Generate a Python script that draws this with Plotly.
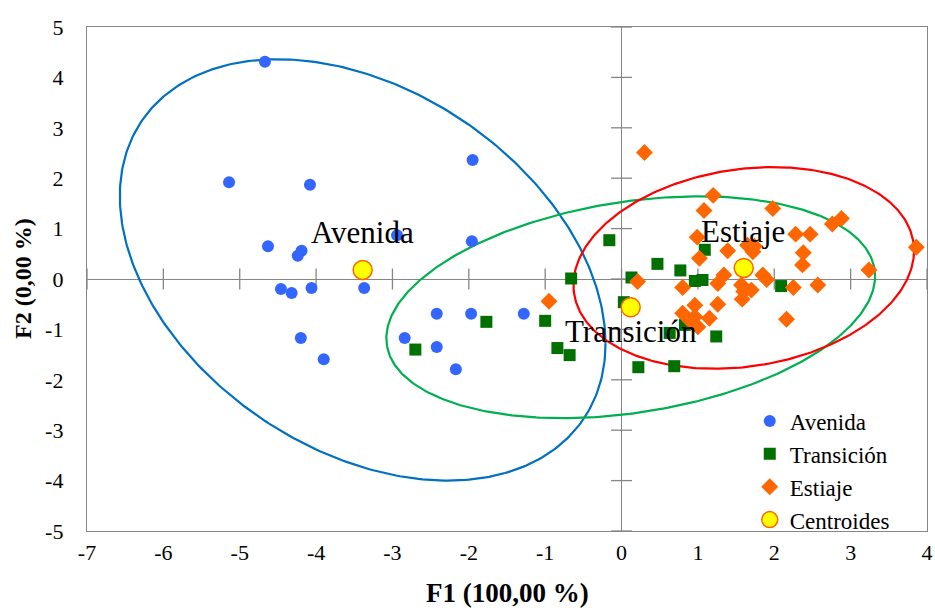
import numpy as np
import plotly.graph_objects as go

# ---------------- data ----------------
avenida_x = [-4.67, -5.14, -4.08, -1.95, -4.63, -4.19, -4.24, -2.94, -1.96, -4.46, -4.32,
             -4.06, -3.37, -4.20, -3.90, -2.84, -2.42, -2.42, -2.17, -1.97, -1.28]
avenida_y = [4.31, 1.92, 1.87, 2.36, 0.65, 0.56, 0.46, 0.87, 0.75, -0.20, -0.28,
             -0.18, -0.18, -1.17, -1.59, -1.17, -0.69, -1.35, -1.79, -0.69, -0.69]

transicion_x = [-0.16, -0.66, 0.13, 0.47, 0.77, 1.09, 0.96, 1.06, 2.09, 0.03, -1.77,
                -1.00, -2.70, -0.84, -0.68, 0.22, 0.69, 1.24, 0.63, 0.83]
transicion_y = [0.77, 0.01, 0.03, 0.30, 0.17, 0.58, -0.04, -0.02, -0.14, -0.46, -0.85,
                -0.83, -1.40, -1.37, -1.51, -1.75, -1.73, -1.14, -1.07, -0.91]

estiaje_x = [0.30, 1.20, 1.08, 1.98, 2.76, 2.88, 0.99, 2.28, 2.47, 1.39, 1.65, 1.74,
             1.72, 2.38, 2.37, 3.86, 1.02, 3.24, 0.21, 0.80, 1.34, 1.26, 1.85, 1.90,
             1.57, 1.60, 1.70, 2.25, 2.57, 1.58, 0.96, 1.26, 2.16, 0.80, 0.96, 1.15,
             0.91, 1.00, -0.95]
estiaje_y = [2.51, 1.66, 1.36, 1.40, 1.09, 1.20, 0.83, 0.89, 0.89, 0.56, 0.67, 0.65,
             0.54, 0.52, 0.28, 0.63, 0.41, 0.18, -0.05, -0.17, 0.08, -0.09, 0.08, -0.01,
             -0.12, -0.25, -0.22, -0.17, -0.12, -0.40, -0.52, -0.50, -0.80, -0.68, -0.75, -0.78,
             -0.85, -0.95, -0.44]

group_names = ["Avenida", "Transición", "Estiaje"]
centroid_x = [-3.39, 0.12, 1.60]
centroid_y = [0.18, -0.56, 0.22]

# confidence-ellipse parameters per group: half-width in x, half-height in y, correlation
ellipse_halfx = [3.18, 3.20, 2.23]
ellipse_halfy = [4.18, 2.20, 2.00]
ellipse_rho = [-0.35, 0.28, 0.17]

# label positions
label_x = [-3.39, 0.13, 1.59]
label_y = [0.93, -1.05, 0.95]

x_ticks = [-7, -6, -5, -4, -3, -2, -1, 0, 1, 2, 3, 4]
y_ticks = [-5, -4, -3, -2, -1, 0, 1, 2, 3, 4, 5]
x_ticktext = [str(v) for v in x_ticks]
y_ticktext = [str(v) for v in y_ticks]

x_title = "F1 (100,00 %)"
y_title = "F2 (0,00 %)"

# ---------------- styles ----------------
FONT = "Liberation Serif"
ellipse_colors = ["#0070C0", "#00B050", "#FF0000"]
AXIS_GRAY = "#868686"

fig = go.Figure()

# ellipses
t = np.linspace(0, 2 * np.pi, 400)
for cx, cy, hx, hy, r, col in zip(centroid_x, centroid_y, ellipse_halfx, ellipse_halfy,
                                   ellipse_rho, ellipse_colors):
    ex = cx + hx * np.cos(t)
    ey = cy + hy * (r * np.cos(t) + np.sqrt(1 - r * r) * np.sin(t))
    fig.add_trace(go.Scatter(x=ex, y=ey, mode="lines", line=dict(color=col, width=2.2),
                             showlegend=False, hoverinfo="skip"))

# axis tick marks on the zero lines
fig.add_trace(go.Scatter(x=x_ticks, y=[0] * len(x_ticks), mode="markers",
                         marker=dict(symbol="line-ns", size=15,
                                     line=dict(color=AXIS_GRAY, width=1.3)),
                         showlegend=False, hoverinfo="skip", cliponaxis=False))
fig.add_trace(go.Scatter(x=[0] * len(y_ticks), y=y_ticks, mode="markers",
                         marker=dict(symbol="line-ew", size=15,
                                     line=dict(color=AXIS_GRAY, width=1.3)),
                         showlegend=False, hoverinfo="skip", cliponaxis=False))

fig.add_trace(go.Scatter(x=avenida_x, y=avenida_y, mode="markers", name="Avenida",
                         legendgroup="a",
                         marker=dict(symbol="circle", size=12, color="#3366FF")))
fig.add_trace(go.Scatter(x=transicion_x, y=transicion_y, mode="markers", name="Transición",
                         legendgroup="b",
                         marker=dict(symbol="square", size=12, color="#007000")))
fig.add_trace(go.Scatter(x=estiaje_x, y=estiaje_y, mode="markers", name="Estiaje",
                         legendgroup="c",
                         marker=dict(symbol="diamond", size=13, color="#FF6600")))
fig.add_trace(go.Scatter(x=centroid_x, y=centroid_y, mode="markers", name="Centroides",
                         legendgroup="d",
                         marker=dict(symbol="circle", size=19, color="#FFFF00",
                                     line=dict(color="#FF6600", width=1.5))))

for name, lx, ly in zip(group_names, label_x, label_y):
    fig.add_annotation(x=lx, y=ly, text=name, showarrow=False,
                       font=dict(family=FONT, size=31, color="black"))

# axis titles
fig.add_annotation(xref="paper", yref="paper", x=0.5, y=0, yshift=-62,
                   text="<b>" + x_title + "</b>", showarrow=False,
                   xanchor="center", yanchor="middle",
                   font=dict(family=FONT, size=27, color="black"))
fig.add_annotation(xref="paper", yref="paper", x=0, y=0.5, xshift=-64,
                   text="<b>" + y_title + "</b>", showarrow=False, textangle=-90,
                   xanchor="center", yanchor="middle",
                   font=dict(family=FONT, size=24, color="black"))

fig.update_layout(
    width=935, height=608,
    margin=dict(l=87, r=8, t=27, b=77),
    paper_bgcolor="white", plot_bgcolor="white",
    font=dict(family=FONT, size=22, color="black"),
    showlegend=True,
    legend=dict(x=0.789, y=0.261, xanchor="left", yanchor="top",
                font=dict(family=FONT, size=23, color="black"),
                bgcolor="rgba(0,0,0,0)", tracegroupgap=0, itemwidth=30),
)
fig.update_xaxes(range=[-7, 4], tickvals=x_ticks, ticktext=x_ticktext, showgrid=False,
                 zeroline=True, zerolinecolor=AXIS_GRAY, zerolinewidth=1.3,
                 showline=True, linecolor=AXIS_GRAY, linewidth=1.3, mirror=True,
                 ticks="", ticklen=0, automargin=False, ticklabelstandoff=1,
                 tickfont=dict(family=FONT, size=22, color="black"))
fig.update_yaxes(range=[-5, 5], tickvals=y_ticks, ticktext=y_ticktext, showgrid=False,
                 zeroline=True, zerolinecolor=AXIS_GRAY, zerolinewidth=1.3,
                 showline=True, linecolor=AXIS_GRAY, linewidth=1.3, mirror=True,
                 ticks="", ticklen=0, automargin=False, ticklabelstandoff=18,
                 tickfont=dict(family=FONT, size=22, color="black"))

# remove the default 8px page margin so the figure fills the window exactly
fig.write_html("out.html", config={"displayModeBar": False},
               post_script="document.body.style.margin='0';document.body.style.overflow='hidden';")
